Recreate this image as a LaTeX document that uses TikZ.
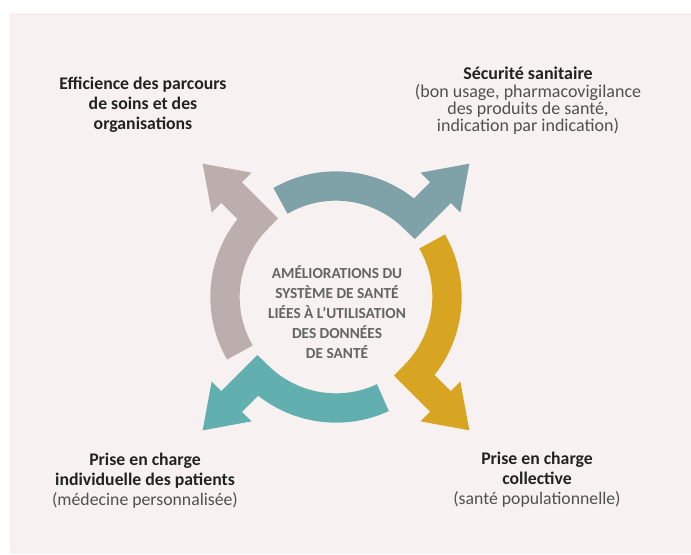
\documentclass[tikz,border=0pt]{standalone}
\usepackage{fontspec}
\setmainfont{Carlito}
\usetikzlibrary{arrows.meta}
\definecolor{bgpink}{HTML}{F7F2F1}
\definecolor{taupe}{HTML}{BCAEAC}
\definecolor{greyteal}{HTML}{7FA2A8}
\definecolor{mustard}{HTML}{D8A522}
\definecolor{seateal}{HTML}{62AFAF}
\definecolor{darktxt}{HTML}{222222}
\definecolor{softtxt}{HTML}{505050}
\definecolor{midtxt}{HTML}{646464}

\begin{document}
\begin{tikzpicture}[x=0.75pt, y=0.75pt,
	band/.style={line width=22pt, line join=miter,
		-{Triangle[length=31pt,width=40pt]}},
	lbl/.style={align=center, text=darktxt, font=\fontsize{13}{15}\selectfont}]
	\useasboundingbox (-336,-257) rectangle (355,297);
	\fill[bgpink] (-326,-257) rectangle (355,284);
	% the four bent arrows
	\draw[band, taupe] (210:111) arc[start angle=210, end angle=135, radius=111] -- (135:189);
	\draw[band, greyteal] (120:111) arc[start angle=120, end angle=45, radius=111] -- (45:189);
	\draw[band, mustard] (30:111) arc[start angle=30, end angle=-45, radius=111] -- (-45:189);
	\draw[band, seateal] (-65:111) arc[start angle=-65, end angle=-135, radius=111] -- (-135:189);
	% centre
	\node[align=center, text=midtxt, font=\fontsize{11.5}{15}\selectfont\bfseries] (centre) at (1,-15)
		{AMÉLIORATIONS DU\\SYSTÈME DE SANTÉ\\LIÉES À L’UTILISATION\\DES DONNÉES\\DE SANTÉ};
	% corner labels
	\node[lbl, font=\fontsize{13.3}{15}\selectfont\bfseries] (effic) at (-193,192)
		{Efficience des parcours\\de soins et des\\organisations};
	\node[lbl, font=\fontsize{13.5}{13}\selectfont] (secu) at (192,196)
		{\textbf{Sécurité sanitaire}\\\textcolor{softtxt}{(bon usage, pharmacovigilance}\\
		\textcolor{softtxt}{des produits de santé,}\\\textcolor{softtxt}{indication par indication)}};
	\node[lbl, font=\fontsize{13.3}{15}\selectfont] (indiv) at (-191,-184)
		{\textbf{Prise en charge}\\\textbf{individuelle des patients}\\\textcolor{softtxt}{(médecine personnalisée)}};
	\node[lbl, font=\fontsize{13.3}{15}\selectfont] (collec) at (201,-183)
		{\textbf{Prise en charge}\\\textbf{collective}\\\textcolor{softtxt}{(santé populationnelle)}};
\end{tikzpicture}
\end{document}
